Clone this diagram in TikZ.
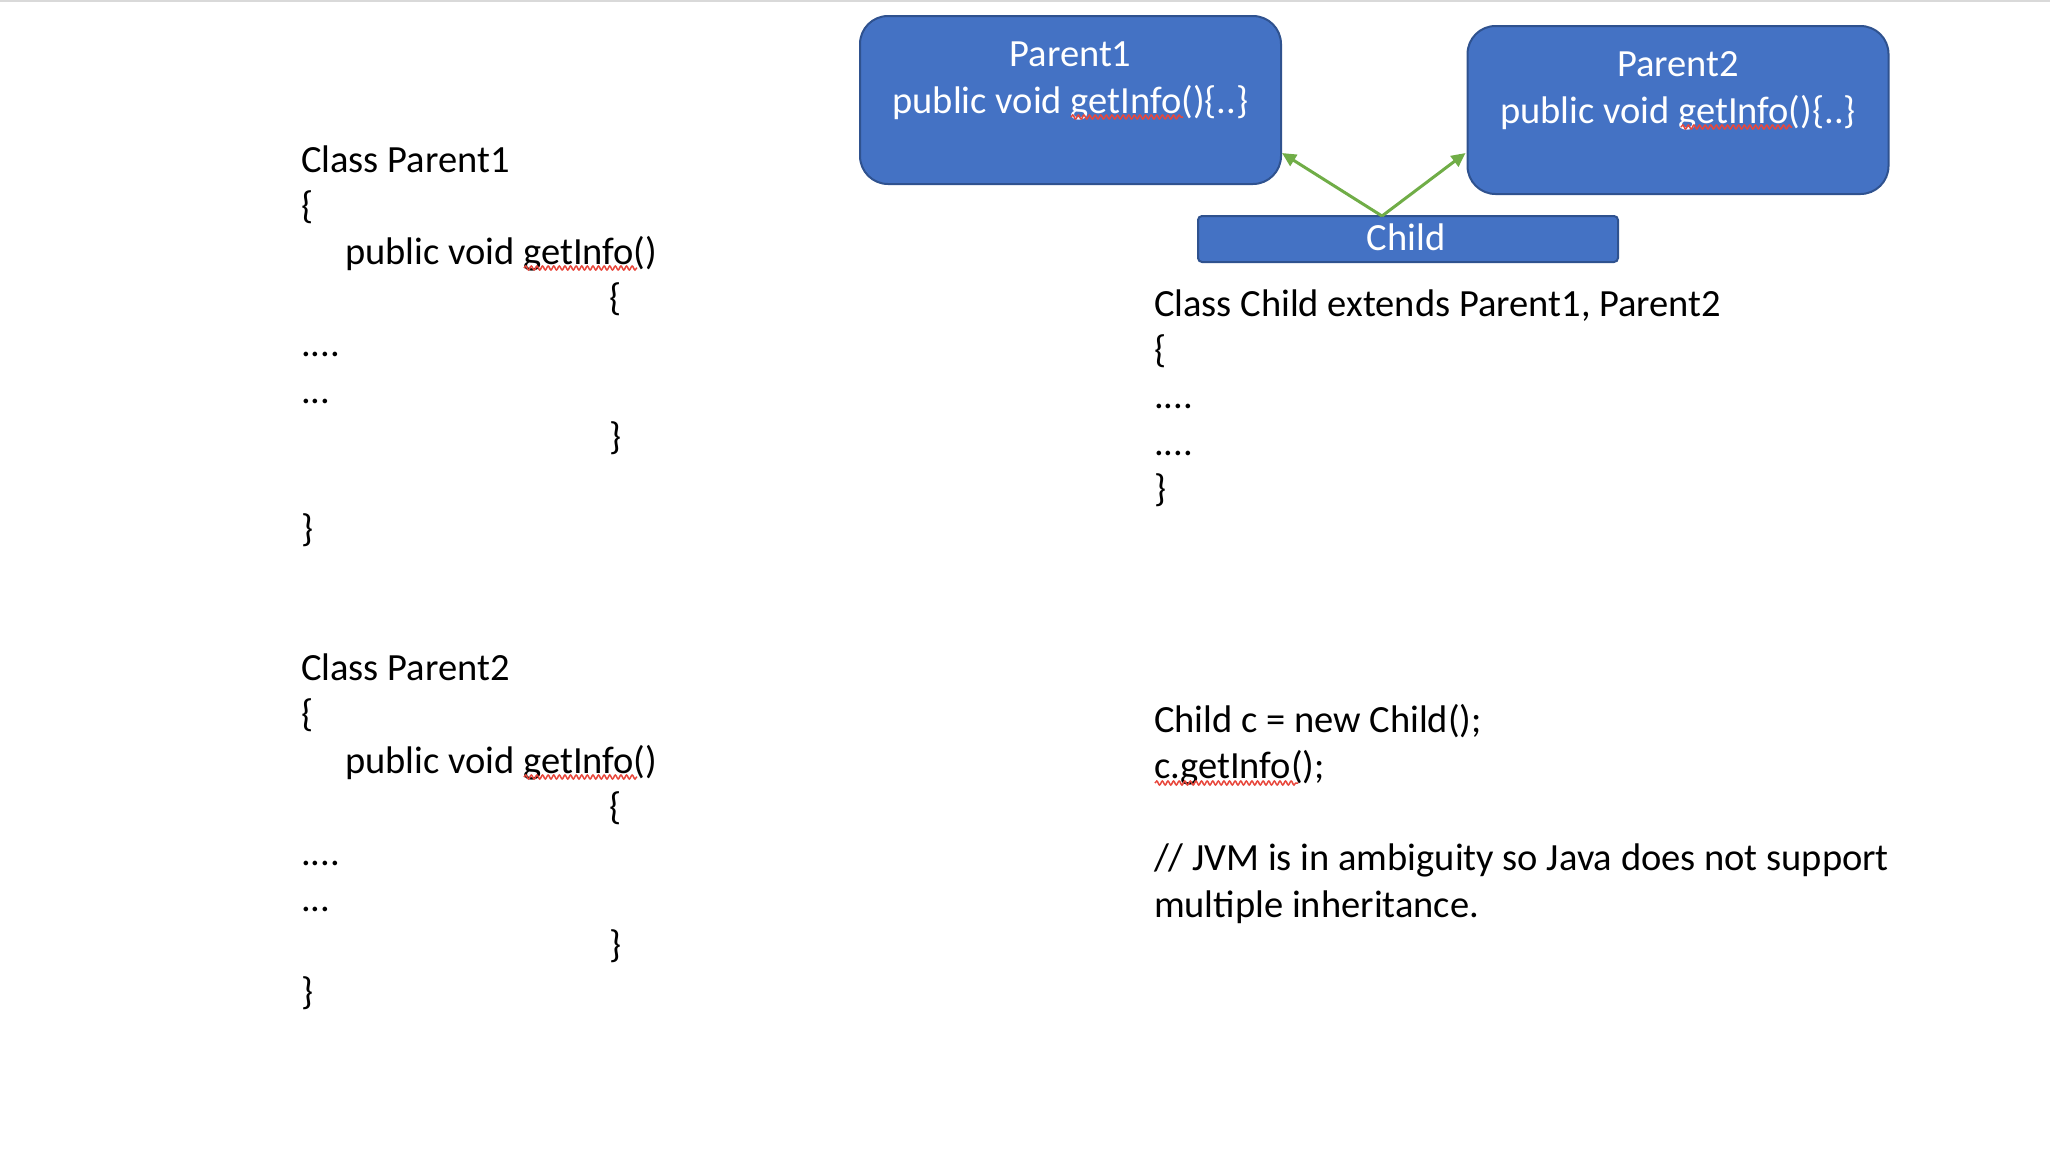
\documentclass[tikz,border=0pt]{standalone}
\usepackage{fontspec}
\setmainfont{Carlito}
\usetikzlibrary{arrows.meta,decorations.pathmorphing}
\definecolor{boxblue}{HTML}{4472C4}
\definecolor{boxedge}{HTML}{2F528F}
\definecolor{arrowgreen}{HTML}{70AD47}
\definecolor{squigred}{HTML}{E8473C}
\definecolor{topgray}{HTML}{D9D9D9}
\begin{document}
\begin{tikzpicture}[x=0.5pt,y=-0.5pt,
  code/.style={anchor=base west,inner sep=0pt,outer sep=0pt,font=\fontsize{19.25}{23}\selectfont},
  boxtext/.style={anchor=base,inner sep=0pt,outer sep=0pt,text=white,font=\fontsize{19.25}{23}\selectfont},
  classbox/.style={draw=boxedge,fill=boxblue,line width=1pt,rounded corners=14pt,inner sep=0pt,outer sep=0pt,minimum width=210.5pt,minimum height=84pt},
  childbox/.style={draw=boxedge,fill=boxblue,line width=1pt,rounded corners=2pt,inner sep=0pt,outer sep=0pt,minimum width=210pt,minimum height=23pt},
  inherit/.style={draw=arrowgreen,line width=1.5pt,-{Triangle[length=7pt,width=6.5pt]}},
  squig/.style={draw=squigred,line width=0.75pt,decorate,decoration={snake,amplitude=1pt,segment length=2.8pt}}]
\useasboundingbox (0,0) rectangle (2050,1158);
\fill[topgray] (0,0) rectangle (2050,2);

% boxes
\node[classbox] (p1) at (1070.5,100) {};
\node[classbox] (p2) at (1678,110) {};
\node[childbox] (ch) at (1408,239) {};
\node[boxtext] (p1a) at (1070.5,66.7) {Parent1};
\node[boxtext] (p1b) at (1070.5,113) {public void getInfo()\{..\}};
\node[boxtext] (p2a) at (1678,76.7) {Parent2};
\node[boxtext] (p2b) at (1678,123) {public void getInfo()\{..\}};
\node[boxtext] (cht) at (1406,250) {Child};

% arrows
\path (ch.north) ++(-26,0) coordinate (cs);
\path (p1.south east) ++(1,-31) coordinate (t1);
\path (p2.south west) ++(-2,-41) coordinate (t2);
\draw[inherit] (cs) -- (t1);
\draw[inherit] (cs) -- (t2);

% class Parent1
\node[code] (a1) at (301,172) {Class Parent1};
\node[code] (a2) at (301,218.2) {\{};
\node[code] (a3) at (345,264.4) {public void getInfo()};
\node[code] (a4) at (609,310.6) {\{};
\node[code] (a5) at (301,356.8) {....};
\node[code] (a6) at (301,403) {...};
\node[code] (a7) at (609,449.2) {\}};
\node[code] (a8) at (301,541.6) {\}};

% class Parent2
\node[code] (b1) at (301,680.7) {Class Parent2};
\node[code] (b2) at (301,726.9) {\{};
\node[code] (b3) at (345,773.1) {public void getInfo()};
\node[code] (b4) at (609,819.3) {\{};
\node[code] (b5) at (301,865.5) {....};
\node[code] (b6) at (301,911.7) {...};
\node[code] (b7) at (609,957.9) {\}};
\node[code] (b8) at (301,1004.1) {\}};

% class Child
\node[code] (c1) at (1154,316.5) {Class Child extends Parent1, Parent2};
\node[code] (c2) at (1154,362.7) {\{};
\node[code] (c3) at (1154,408.9) {....};
\node[code] (c4) at (1154,455.1) {....};
\node[code] (c5) at (1154,501.3) {\}};

% usage
\node[code] (d1) at (1154,732) {Child c = new Child();};
\node[code] (d2) at (1154,778.3) {c.getInfo();};
\node[code] (d3) at (1154,870.9) {// JVM is in ambiguity so Java does not support};
\node[code] (d4) at (1154,917.2) {multiple inheritance.};

% spell-check squiggles
\draw[squig] (1071,117) -- (1183,117);
\draw[squig] (1681,127) -- (1792,127);
\draw[squig] (524,268) -- (637,268);
\draw[squig] (524,777) -- (637,777);
\draw[squig] (1155,783) -- (1298,783);
\end{tikzpicture}
\end{document}
